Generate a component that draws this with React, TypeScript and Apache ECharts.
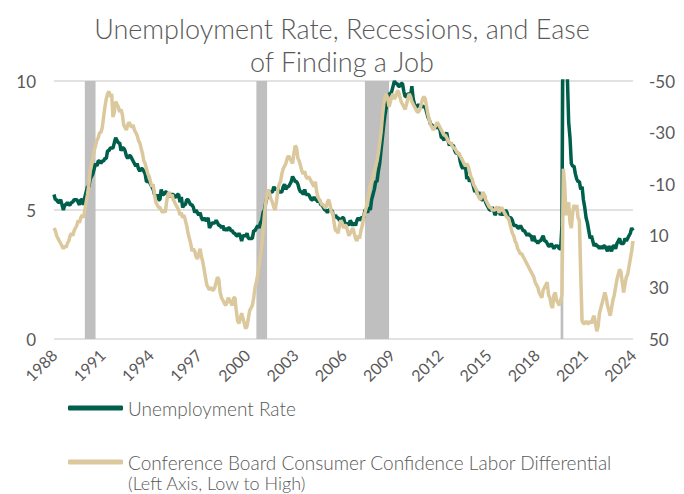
import React, { useEffect, useRef } from "react";
import * as echarts from "echarts";

// Monthly observations, Aug 1988 .. Aug 2024
const startYear = 1988;
const startMonth = 8;
const pointCount = 433;
const months: string[] = [];
for (let i = 0; i < pointCount; i++) {
  const m = startMonth - 1 + i;
  const y = startYear + Math.floor(m / 12);
  const mm = (m % 12) + 1;
  months.push(`${y}-${mm < 10 ? "0" + mm : mm}`);
}

const unemploymentRate: number[] = [
  5.6, 5.4, 5.4, 5.3, 5.3,
  5.4, 5.2, 5.0, 5.2, 5.2, 5.3, 5.2, 5.2, 5.3, 5.3, 5.4, 5.4,
  5.4, 5.3, 5.2, 5.4, 5.4, 5.2, 5.5, 5.7, 5.9, 5.9, 6.2, 6.3,
  6.4, 6.6, 6.8, 6.7, 6.9, 6.9, 6.8, 6.9, 6.9, 7.0, 7.0, 7.3,
  7.3, 7.4, 7.4, 7.4, 7.6, 7.8, 7.7, 7.6, 7.6, 7.3, 7.4, 7.4,
  7.3, 7.1, 7.0, 7.1, 7.1, 7.0, 6.9, 6.8, 6.7, 6.8, 6.6, 6.5,
  6.6, 6.6, 6.5, 6.4, 6.1, 6.1, 6.1, 6.0, 5.9, 5.8, 5.6, 5.5,
  5.6, 5.4, 5.4, 5.8, 5.6, 5.6, 5.7, 5.7, 5.6, 5.5, 5.6, 5.6,
  5.6, 5.5, 5.5, 5.6, 5.6, 5.3, 5.5, 5.1, 5.2, 5.2, 5.4, 5.4,
  5.3, 5.2, 5.2, 5.1, 4.9, 5.0, 4.9, 4.8, 4.9, 4.7, 4.6, 4.7,
  4.6, 4.6, 4.7, 4.3, 4.4, 4.5, 4.5, 4.5, 4.6, 4.5, 4.4, 4.4,
  4.3, 4.4, 4.2, 4.3, 4.2, 4.3, 4.3, 4.2, 4.2, 4.1, 4.1, 4.0,
  4.0, 4.1, 4.0, 3.8, 4.0, 4.0, 4.0, 4.1, 3.9, 3.9, 3.9, 3.9,
  4.2, 4.2, 4.3, 4.4, 4.3, 4.5, 4.6, 4.9, 5.0, 5.3, 5.5, 5.7,
  5.7, 5.7, 5.7, 5.9, 5.8, 5.8, 5.8, 5.7, 5.7, 5.7, 5.9, 6.0,
  5.8, 5.9, 5.9, 6.0, 6.1, 6.3, 6.2, 6.1, 6.1, 6.0, 5.8, 5.7,
  5.7, 5.6, 5.8, 5.6, 5.6, 5.6, 5.5, 5.4, 5.4, 5.5, 5.4, 5.4,
  5.3, 5.4, 5.2, 5.2, 5.1, 5.0, 5.0, 4.9, 5.0, 5.0, 5.0, 4.9,
  4.7, 4.8, 4.7, 4.7, 4.6, 4.6, 4.7, 4.7, 4.5, 4.4, 4.5, 4.4,
  4.6, 4.5, 4.4, 4.5, 4.4, 4.6, 4.7, 4.6, 4.7, 4.7, 4.7, 5.0,
  5.0, 4.9, 5.1, 5.0, 5.4, 5.6, 5.8, 6.1, 6.1, 6.5, 6.8, 7.3,
  7.8, 8.3, 8.7, 9.0, 9.4, 9.5, 9.5, 9.6, 9.8, 10.0, 9.9, 9.9,
  9.8, 9.8, 9.9, 9.9, 9.6, 9.4, 9.4, 9.5, 9.5, 9.4, 9.8, 9.3,
  9.1, 9.0, 9.0, 9.1, 9.0, 9.1, 9.0, 9.0, 9.0, 8.8, 8.6, 8.5,
  8.3, 8.3, 8.2, 8.2, 8.2, 8.2, 8.2, 8.1, 7.8, 7.8, 7.7, 7.9,
  8.0, 7.7, 7.5, 7.6, 7.5, 7.5, 7.3, 7.2, 7.2, 7.2, 6.9, 6.7,
  6.6, 6.7, 6.7, 6.2, 6.3, 6.1, 6.2, 6.1, 5.9, 5.7, 5.8, 5.6,
  5.7, 5.5, 5.4, 5.4, 5.6, 5.3, 5.2, 5.1, 5.0, 5.0, 5.1, 5.0,
  4.8, 4.9, 5.0, 5.1, 4.8, 4.9, 4.8, 4.9, 5.0, 4.9, 4.7, 4.7,
  4.7, 4.6, 4.4, 4.4, 4.4, 4.3, 4.3, 4.4, 4.3, 4.2, 4.2, 4.1,
  4.0, 4.1, 4.0, 4.0, 3.8, 4.0, 3.8, 3.8, 3.7, 3.8, 3.8, 3.9,
  4.0, 3.8, 3.8, 3.7, 3.6, 3.6, 3.7, 3.6, 3.5, 3.6, 3.6, 3.6,
  3.5, 3.5, 4.4, 14.8, 13.2, 11.0, 10.2, 8.4, 7.8, 6.8, 6.7, 6.7,
  6.4, 6.2, 6.1, 6.1, 5.8, 5.9, 5.4, 5.1, 4.7, 4.5, 4.2, 3.9,
  4.0, 3.8, 3.6, 3.7, 3.6, 3.6, 3.5, 3.6, 3.5, 3.6, 3.6, 3.5,
  3.4, 3.6, 3.5, 3.4, 3.6, 3.6, 3.5, 3.7, 3.8, 3.9, 3.7, 3.7,
  3.7, 3.9, 3.8, 3.9, 4.0, 4.1, 4.3, 4.2,
];

// Jobs plentiful minus jobs hard to get (right axis, inverted)
const laborDifferential: number[] = [
  7, 8, 10, 11, 12,
  13, 14, 15, 14, 14.5, 13, 12, 10, 9, 10, 8, 7,
  6, 4, 5, 3, 2, 3, 0, -3, -6, -10, -15, -18,
  -20, -23, -25, -27, -28, -30, -30, -32, -36, -40, -43, -45,
  -46, -44, -45, -36, -38, -42, -41, -40, -38, -39, -37, -33,
  -32, -31, -33, -34, -33, -32, -33, -31, -30, -29, -27, -26,
  -24, -22, -19, -18, -16, -14, -13, -11, -9, -10, -6, -3,
  -2, -1, -1, 0, 1, 0, 1, -3, -6, -7, -5, -6,
  -4, -3, -2, -1, 0, 2, 1, 3, 2, 4, 6, 9,
  11, 13, 16, 15, 16, 18, 19, 17, 15, 18, 20, 23,
  26, 29, 30, 31, 30, 31, 31, 30, 28, 26, 27, 32,
  34, 35, 36, 37, 36, 34, 35, 36, 37, 34, 34, 39,
  43, 44, 42, 40, 42, 44, 46, 45, 42, 39, 38, 37,
  34, 30, 28, 25, 22, 18, 14, 8, 2, -3, -6, -8,
  -6, -4, -3, -1, 0, -3, -8, -10, -11, -14, -16, -17,
  -18, -20, -21, -20, -19, -18, -22, -25, -24, -20, -19, -17,
  -15, -14, -15, -13, -12, -13, -12, -11, -10, -9, -11, -7,
  -5, -4, -3, -2, -2, -1, -1, -3, -4, -2, 1, 1,
  5, 8, 8, 9, 6, 4, 5, 7, 6, 6, 8, 10,
  9, 8, 7, 9, 11, 12, 10, 11, 8, 6, 3, 1,
  -1, -4, -7, -10, -11, -13, -15, -17, -19, -22, -26, -30,
  -36, -41, -44, -45, -43, -40, -42, -44, -45, -43, -44, -46,
  -46, -44, -42, -41, -40, -39, -41, -43, -45, -44, -42, -41,
  -40, -39, -38, -38, -39, -41, -43, -44, -43, -40, -37, -35,
  -33, -32, -31, -32, -33, -34, -33, -32, -31, -30, -29, -29,
  -28, -27, -26, -26, -25, -24, -24, -23, -22, -22, -21, -20,
  -19, -18, -17, -18, -17, -15, -13, -12, -10, -9, -8, -6,
  -5, -4, -5, -7, -6, -4, -3, -2, -1, -1, 0, 0,
  0, -1, -1, 1, 0, -1, 0, 1, 2, 3, 3, 5,
  7, 9, 10, 12, 13, 15, 16, 17, 17, 18, 19, 20,
  21, 22, 23, 24, 25, 26, 28, 29, 30, 32, 33, 34,
  31, 30, 29, 28, 33, 34, 37, 38, 33, 32, 35, 36,
  37, 35, 33, -16, -10, 2, -1, -3, 5, 7, 1, -2,
  0, -2, 3, 4, 25, 43, 44, 44, 43, 44, 44, 43,
  44, 42, 41, 44, 47, 45, 40, 38, 36, 34, 32, 34,
  37, 39, 41, 38, 35, 33, 30, 27, 25, 23, 24, 28,
  32, 29, 26, 25, 22, 19, 16, 12,
];

const recessions: [string, string][] = [
  ["1990-07", "1991-03"],
  ["2001-03", "2001-11"],
  ["2007-12", "2009-06"],
  ["2020-02", "2020-04"],
];

const titleText = "Unemployment Rate, Recessions, and Ease\nof Finding a Job";
const urName = "Unemployment Rate";
const ldName = "Conference Board Consumer Confidence Labor Differential";
const ldNote = "(Left Axis, Low to High)";
const rightAxisOffset = 50; // right axis runs -50..50, drawn as 0..100

const GREEN = "#005F4B";
const TAN = "#DCC89D";
const GREY_TEXT = "#595959";
const FONT = "Lato, 'Open Sans', sans-serif";

export default function App() {
  const ref = useRef<HTMLDivElement>(null);
  useEffect(() => {
    if (!ref.current) return;
    const chart = echarts.init(ref.current, undefined, { renderer: "svg" });
    const legendBase = {
      orient: "vertical",
      left: 68,
      padding: 0,
      icon: "roundRect",
      itemWidth: 55,
      itemHeight: 5,
      itemGap: 5,
      selectedMode: false,
      textStyle: {
        color: GREY_TEXT,
        fontSize: 19,
        lineHeight: 20,
        fontFamily: FONT,
        fontWeight: 300,
      },
    };
    chart.setOption({
      animation: false,
      backgroundColor: "#ffffff",
      title: {
        text: titleText,
        left: "center",
        top: 7,
        textStyle: {
          color: GREY_TEXT,
          fontSize: 27,
          fontWeight: 300,
          fontFamily: FONT,
          lineHeight: 33,
        },
      },
      grid: { left: 54, right: 51, top: 81, bottom: 155, containLabel: false },
      legend: [
        { ...legendBase, top: 398, data: [urName] },
        { ...legendBase, top: 452, data: [ldName] },
      ],
      graphic: [
        {
          type: "text",
          left: 128,
          top: 473,
          style: {
            text: ldNote,
            fill: GREY_TEXT,
            fontSize: 18,
            lineHeight: 19,
            fontFamily: FONT,
            fontWeight: 300,
          },
        },
      ],
      xAxis: {
        type: "category",
        data: months,
        boundaryGap: false,
        axisLine: { show: false },
        axisTick: { show: false },
        splitLine: { show: false },
        axisLabel: {
          interval: 35,
          rotate: 45,
          margin: 13,
          color: GREY_TEXT,
          fontSize: 16,
          fontFamily: FONT,
          formatter: (v: string) => v.slice(0, 4),
        },
      },
      yAxis: [
        {
          type: "value",
          min: 0,
          max: 10,
          interval: 5,
          axisLine: { show: false },
          axisTick: { show: false },
          axisLabel: { color: GREY_TEXT, fontSize: 17, fontFamily: FONT, margin: 18 },
          splitLine: { lineStyle: { color: "#D9D9D9", width: 1.5 } },
        },
        {
          type: "value",
          min: 0,
          max: 100,
          interval: 20,
          inverse: true,
          axisLine: { show: false },
          axisTick: { show: false },
          splitLine: { show: false },
          axisLabel: {
            color: GREY_TEXT,
            fontSize: 17,
            fontFamily: FONT,
            margin: 16,
            formatter: (v: number) => String(v - rightAxisOffset),
          },
        },
      ],
      series: [
        {
          name: urName,
          type: "line",
          data: unemploymentRate,
          yAxisIndex: 0,
          showSymbol: false,
          symbol: "none",
          z: 3,
          lineStyle: { color: GREEN, width: 3.5 },
          itemStyle: { color: GREEN },
          markArea: {
            silent: true,
            itemStyle: { color: "#BFBFBF", opacity: 1 },
            data: recessions.map(([a, b]) => [{ xAxis: a }, { xAxis: b }]),
          },
        },
        {
          name: ldName,
          type: "line",
          data: laborDifferential.map((v) => v + rightAxisOffset),
          yAxisIndex: 1,
          showSymbol: false,
          symbol: "none",
          z: 4,
          lineStyle: { color: TAN, width: 3.5 },
          itemStyle: { color: TAN },
        },
      ],
    });
    return () => chart.dispose();
  }, []);
  return (
    <div
      ref={ref}
      style={{ position: "fixed", left: 0, top: 0, width: 684, height: 494 }}
    />
  );
}
